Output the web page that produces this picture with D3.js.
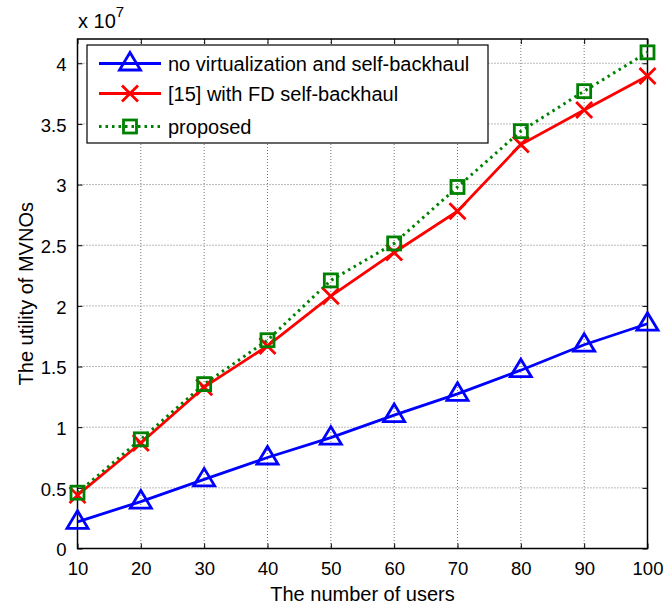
<!DOCTYPE html>
<html><head><meta charset="utf-8">
<script src="https://cdn.jsdelivr.net/npm/d3@7"></script>
<style>body{margin:0;background:#fff;} text{font-family:Arial,"Liberation Sans",sans-serif;}</style>
</head><body><svg id="c" width="668" height="610"></svg>
<script>
const users = [10,20,30,40,50,60,70,80,90,100];
const noVirt = [0.22,0.387,0.57,0.75,0.914,1.10,1.275,1.47,1.68,1.853];
const fd15 = [0.44,0.87,1.33,1.67,2.08,2.44,2.78,3.33,3.615,3.895];
const proposed = [0.46,0.90,1.355,1.717,2.21,2.515,2.98,3.44,3.77,4.09];
const xTicks = [10,20,30,40,50,60,70,80,90,100];
const yTicks = [0,0.5,1,1.5,2,2.5,3,3.5,4];
const seriesNames = ["no virtualization and self-backhaul","[15] with FD self-backhaul","proposed"];

const svg = d3.select("#c");
const L=77.5, R=647.5, T=39, B=548.5;
const x = d3.scaleLinear().domain([10,100]).range([L,R]);
const y = d3.scaleLinear().domain([0,4.2]).range([B,T]);

// grid
const g = svg.append("g");
g.selectAll(".gx").data(xTicks.slice(1,-1)).join("line")
 .attr("x1",d=>x(d)).attr("x2",d=>x(d)).attr("y1",T).attr("y2",B)
 .attr("stroke","#555").attr("stroke-width",0.8).attr("stroke-dasharray","1,2");
g.selectAll(".gy").data(yTicks.slice(1)).join("line")
 .attr("x1",L).attr("x2",R).attr("y1",d=>y(d)).attr("y2",d=>y(d))
 .attr("stroke","#555").attr("stroke-width",0.8).attr("stroke-dasharray","1,2");

// axes
const fmt = d=>String(d);
const ax = d3.axisBottom(x).tickValues(xTicks).tickSize(-5).tickPadding(13).tickFormat(fmt);
const axT = d3.axisTop(x).tickValues(xTicks).tickSize(-5).tickFormat("");
const ay = d3.axisLeft(y).tickValues(yTicks).tickSize(-5).tickPadding(11).tickFormat(fmt);
const ayR = d3.axisRight(y).tickValues(yTicks).tickSize(-5).tickFormat("");
function style(sel){sel.select(".domain").remove();sel.selectAll("line").attr("stroke","#000");sel.selectAll("text").attr("font-size","18.5px").attr("fill","#000").attr("font-family","Arial, 'Liberation Sans', sans-serif");}
svg.append("g").attr("transform",`translate(0,${B})`).call(ax).call(style);
svg.append("g").attr("transform",`translate(0,${T})`).call(axT).call(style);
const gy = svg.append("g").attr("transform",`translate(${L},0)`).call(ay).call(style);
gy.selectAll("text").attr("dy","0.4em");
svg.append("g").attr("transform",`translate(${R},0)`).call(ayR).call(style);
svg.append("rect").attr("x",L).attr("y",T).attr("width",R-L).attr("height",B-T)
 .attr("fill","none").attr("stroke","#000").attr("stroke-width",1.5);

// labels
svg.append("text").attr("x",(L+R)/2).attr("y",601).attr("text-anchor","middle").attr("font-size","20px").text("The number of users");
svg.append("text").attr("transform",`translate(33,${(T+B)/2}) rotate(-90)`).attr("text-anchor","middle").attr("font-size","20px").text("The utility of MVNOs");
const ex = svg.append("text").attr("x",78).attr("y",28).attr("font-size","20px");
ex.append("tspan").text("x 10");
ex.append("tspan").attr("dy",-11).attr("font-size","15px").text("7");

// series
const line = d3.line().x((d,i)=>x(users[i])).y(d=>y(d));
const plot = svg.append("g");
plot.append("path").datum(noVirt).attr("d",line).attr("fill","none").attr("stroke","#0000ff").attr("stroke-width",2.8);
plot.append("path").datum(fd15).attr("d",line).attr("fill","none").attr("stroke","#ff0000").attr("stroke-width",2.8);
plot.append("path").datum(proposed).attr("d",line).attr("fill","none").attr("stroke","#008000").attr("stroke-width",3).attr("stroke-dasharray","2.5,4");

function tri(sel,cx,cy){sel.append("path").attr("d",`M${cx},${cy-11}L${cx+10.5},${cy+6.5}L${cx-10.5},${cy+6.5}Z`).attr("fill","none").attr("stroke","#0000ff").attr("stroke-width",2.8);}
function cross(sel,cx,cy){sel.append("path").attr("d",`M${cx-8},${cy-8}L${cx+8},${cy+8}M${cx-8},${cy+8}L${cx+8},${cy-8}`).attr("stroke","#ff0000").attr("stroke-width",2.8);}
function sq(sel,cx,cy){sel.append("rect").attr("x",cx-6.5).attr("y",cy-6.5).attr("width",13).attr("height",13).attr("fill","none").attr("stroke","#008000").attr("stroke-width",2.8);}
noVirt.forEach((d,i)=>tri(plot,x(users[i]),y(d)));
fd15.forEach((d,i)=>cross(plot,x(users[i]),y(d)));
proposed.forEach((d,i)=>sq(plot,x(users[i]),y(d)));

// legend
const lg = svg.append("g");
lg.append("rect").attr("x",87).attr("y",45).attr("width",401).attr("height",98).attr("fill","#fff").attr("stroke","#000").attr("stroke-width",1.2);
const ly=[63.5,93.5,126.5];
lg.append("line").attr("x1",99).attr("x2",161).attr("y1",ly[0]).attr("y2",ly[0]).attr("stroke","#0000ff").attr("stroke-width",2.8);
tri(lg,130,ly[0]);
lg.append("line").attr("x1",99).attr("x2",161).attr("y1",ly[1]).attr("y2",ly[1]).attr("stroke","#ff0000").attr("stroke-width",2.8);
cross(lg,130,ly[1]);
lg.append("line").attr("x1",99).attr("x2",161).attr("y1",ly[2]).attr("y2",ly[2]).attr("stroke","#008000").attr("stroke-width",3).attr("stroke-dasharray","2.5,4");
sq(lg,130,ly[2]);
seriesNames.forEach((n,i)=>lg.append("text").attr("x",168).attr("y",ly[i]+7).attr("font-size","20px").text(n));
</script></body></html>
